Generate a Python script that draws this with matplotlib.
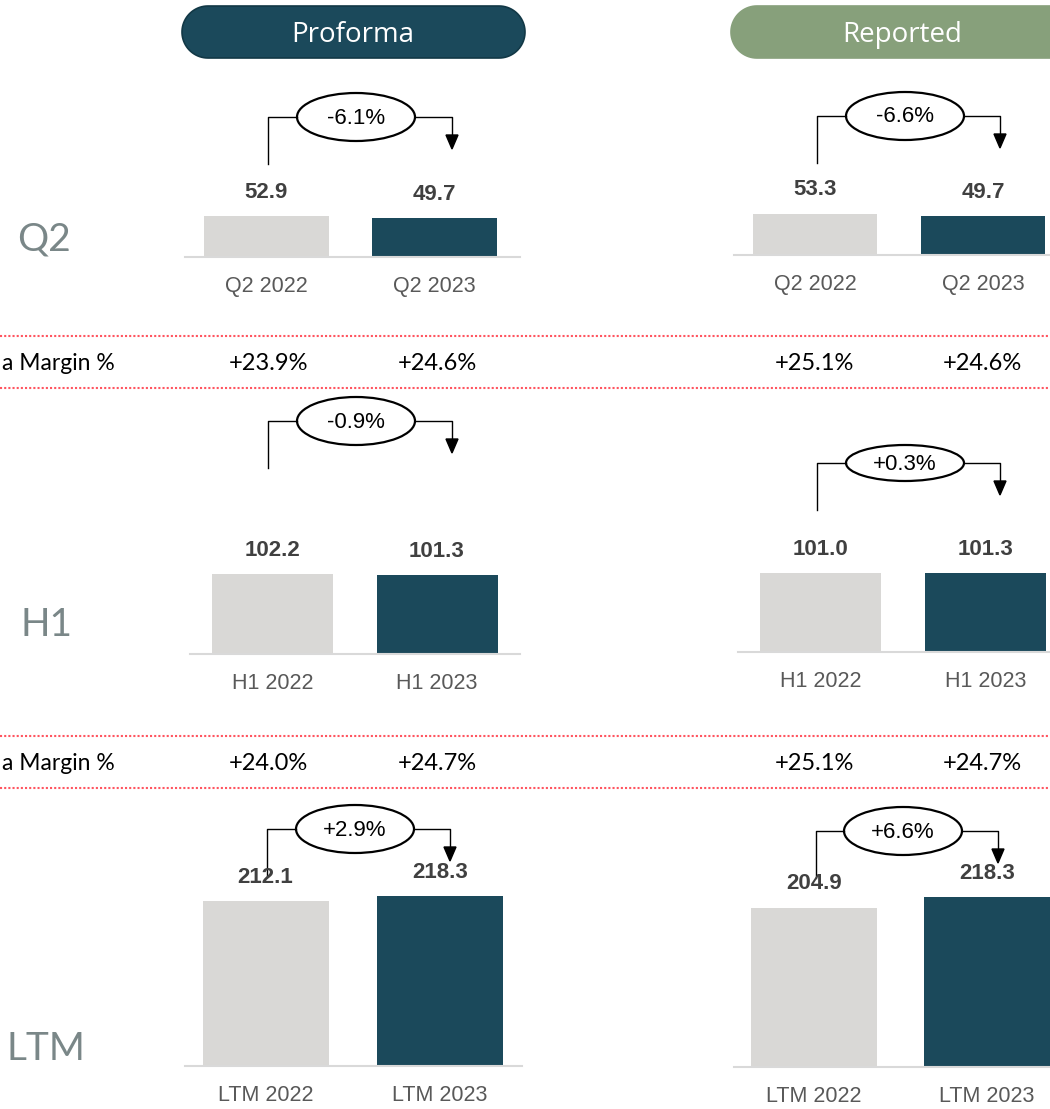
import numpy as np
import matplotlib.pyplot as plt
from matplotlib.patches import Ellipse, Polygon

plt.rcParams['font.family'] = ['Liberation Sans', 'DejaVu Sans']

# EBITDA per period, proforma and reported basis
periods = ["Q2", "H1", "LTM"]
proforma_2022 = [52.9, 102.2, 212.1]
proforma_2023 = [49.7, 101.3, 218.3]
reported_2022 = [53.3, 101.0, 204.9]
reported_2023 = [49.7, 101.3, 218.3]
proforma_change = ["-6.1%", "-0.9%", "+2.9%"]
reported_change = ["-6.6%", "+0.3%", "+6.6%"]

# margin rows sit between Q2/H1 and H1/LTM
proforma_margin = [["+23.9%", "+24.6%"], ["+24.0%", "+24.7%"]]
reported_margin = [["+25.1%", "+24.6%"], ["+25.1%", "+24.7%"]]

GREY = "#D9D8D6"
TEAL = "#1B495B"
SAGE = "#87A07B"
AXIS_LINE = "#D9D9D9"
LABEL_GREY = "#595959"
ROW_GREY = "#7A8788"
DOTS = "#FF5560"

W, H = 1050, 1109
PX_PER_UNIT = 0.778

fig = plt.figure(figsize=(W / 100, H / 100), dpi=100)

# full-figure overlay in pixel coordinates for headers, brackets and margin rows
ov = fig.add_axes([0, 0, 1, 1])
ov.set_xlim(0, W)
ov.set_ylim(H, 0)
ov.axis('off')


def frac(x0, y_top, w, h):
    return [x0 / W, 1 - (y_top + h) / H, w / W, h / H]


def pill(x0, x1, y0, y1, face, edge):
    r = (y1 - y0) / 2
    cy = (y0 + y1) / 2
    t = np.linspace(-np.pi / 2, np.pi / 2, 40)
    right = np.column_stack([x1 - r + r * np.cos(t), cy + r * np.sin(t)])
    left = np.column_stack([x0 + r - r * np.cos(t), cy - r * np.sin(t)])
    ov.add_patch(Polygon(np.vstack([right, left]), closed=True,
                         facecolor=face, edgecolor=edge, lw=1.2))


def bar_panel(vals, years, base, c0, sp, bw, x0, x1):
    top_h = 230
    ax = fig.add_axes(frac(x0, base - top_h, x1 - x0, top_h))
    ax.set_facecolor('none')
    ax.set_xlim((x0 - c0) / sp, (x1 - c0) / sp)
    ax.set_ylim(0, top_h / PX_PER_UNIT)
    ax.bar([0, 1], vals, width=bw / sp, color=[GREY, TEAL])
    ax.axhline(0, color=AXIS_LINE, lw=1.5, clip_on=False)
    for i, v in enumerate(vals):
        ax.annotate(f"{v:.1f}", (i, v), xytext=(0, 17), textcoords='offset points',
                    ha='center', va='center', fontsize=16, fontweight='bold',
                    color='#404040', annotation_clip=False)
    ax.set_xticks([0, 1], years)
    ax.tick_params(axis='x', length=0, pad=13.5, labelsize=15.5, labelcolor=LABEL_GREY)
    ax.set_yticks([])
    for s in ax.spines.values():
        s.set_visible(False)
    return ax


def bracket(y, left, right, cx, text, eh=48):
    ov.plot([left, left, cx - 59], [y + 47, y, y], color='black', lw=1)
    ov.plot([cx + 59, right, right], [y, y, y + 20], color='black', lw=1)
    ov.add_patch(Polygon([[right - 6, y + 18], [right + 6, y + 18], [right, y + 32]],
                         closed=True, color='black'))
    ov.add_patch(Ellipse((cx, y), 118, eh, facecolor='white', edgecolor='black', lw=1.6))
    ov.text(cx, y + 1, text, ha='center', va='center', fontsize=16, color='black')


# column headers
pill(182, 525, 6, 58, TEAL, '#123846')
ov.text(353, 35, "Proforma", ha='center', va='center', color='white',
        fontsize=20, family=['Open Sans', 'DejaVu Sans'])
pill(731, 1130, 6, 58, SAGE, SAGE)
ov.text(902, 35, "Reported", ha='center', va='center', color='white',
        fontsize=20, family=['Open Sans', 'DejaVu Sans'])

# row titles
row_y = [239, 625, 1049]
row_x = [17, 20, 7]
for name, x, y in zip(periods, row_x, row_y):
    ov.text(x, y, name, ha='left', va='center', fontsize=28, color=ROW_GREY,
            family=['Lato', 'DejaVu Sans'])

# margin rows
for (top, bot, ty), pm, rm in zip([(336, 388, 364), (736, 788, 764)],
                                  proforma_margin, reported_margin):
    for yy in (top, bot):
        ov.plot([0, W], [yy, yy], color=DOTS, lw=1.5, dashes=(1, 1))
    ov.text(115, ty, "a Margin %", ha='right', va='center', fontsize=16.5,
            color='black', family=['Lato', 'DejaVu Sans'])
    for x, s in zip([268, 437, 814, 982], pm + rm):
        ov.text(x, ty, s, ha='center', va='center', fontsize=17, color='black',
                family=['Lato', 'DejaVu Sans'])

# bar panels
bar_panel([proforma_2022[0], proforma_2023[0]], ["Q2 2022", "Q2 2023"], 257, 266.5, 168, 125, 185, 520)
bar_panel([reported_2022[0], reported_2023[0]], ["Q2 2022", "Q2 2023"], 255, 815, 168, 124, 734, 1100)
bar_panel([proforma_2022[1], proforma_2023[1]], ["H1 2022", "H1 2023"], 654, 272.5, 164.5, 121, 190, 520)
bar_panel([reported_2022[1], reported_2023[1]], ["H1 2022", "H1 2023"], 652, 820.5, 165, 121, 738, 1100)
bar_panel([proforma_2022[2], proforma_2023[2]], ["LTM 2022", "LTM 2023"], 1066, 265.5, 174.5, 126, 185, 522)
bar_panel([reported_2022[2], reported_2023[2]], ["LTM 2022", "LTM 2023"], 1067, 814, 173, 126, 734, 1100)

# change brackets
bracket(117, 268, 452, 356, proforma_change[0])
bracket(116, 817, 1000, 905, reported_change[0])
bracket(421, 268, 452, 356, proforma_change[1])
bracket(463, 817, 1000, 905, reported_change[1], eh=36)
bracket(829, 267, 450, 355, proforma_change[2])
bracket(831, 816, 998, 903, reported_change[2])

fig.savefig("out.png", dpi=100)
